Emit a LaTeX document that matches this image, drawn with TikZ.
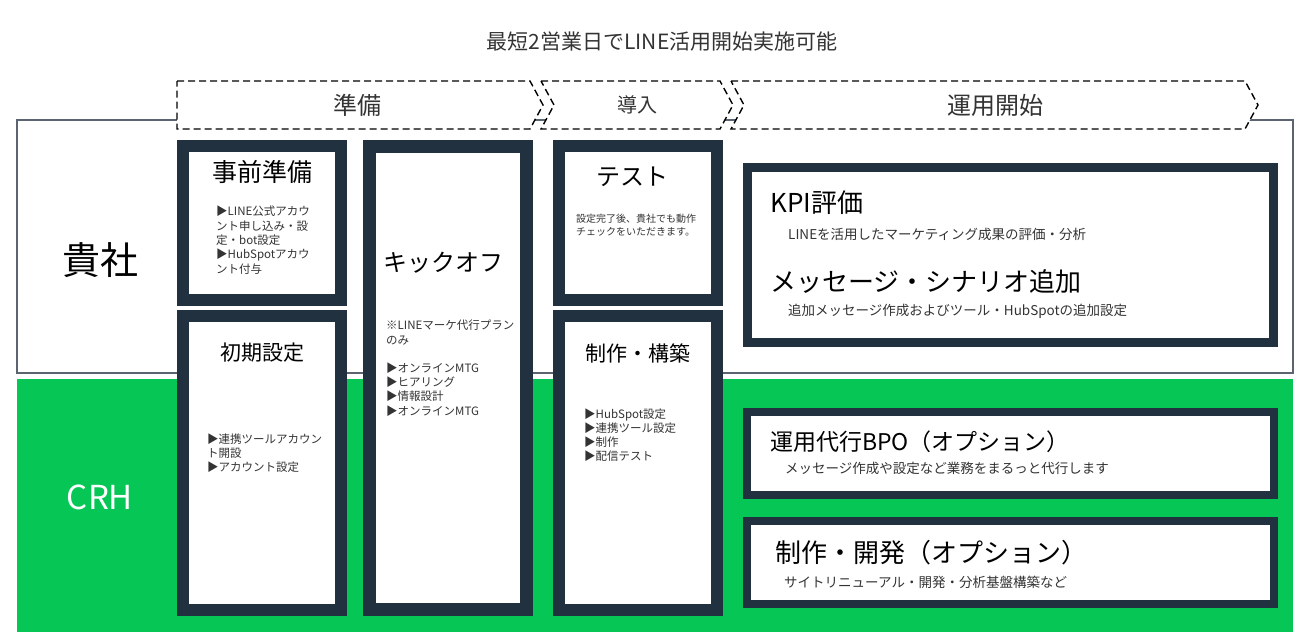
\documentclass[tikz,border=0pt]{standalone}
\usepackage{fontspec}
\setmainfont{Noto Sans CJK JP}
\definecolor{navy}{HTML}{22313F}
\definecolor{linegreen}{HTML}{06C755}
\definecolor{framegray}{HTML}{5B6470}
\definecolor{inkgray}{HTML}{333333}
\tikzstyle{panel}=[draw=navy,fill=white,inner sep=0pt,outer sep=0pt]
\tikzstyle{phase}=[draw=black,fill=white,line width=1.4pt,dash pattern=on 7pt off 4pt]
\tikzstyle{heading}=[inner sep=0pt,text=black]
\tikzstyle{bullets}=[inner sep=0pt,anchor=north west,align=left,text=inkgray]
\tikzstyle{subtext}=[inner sep=0pt,anchor=west,text=inkgray,font=\fontsize{13.5}{13.5}\selectfont]
\newcommand{\fs}[1]{\fontsize{#1}{#1}\selectfont}

\begin{document}
\begin{tikzpicture}[x=1pt,y=-1pt]
\useasboundingbox (0,0) rectangle (1315,638);
\fill[linegreen] (17,379) rectangle (1293,632);
\draw[framegray,line width=1.5pt] (17,120) rectangle (1293,373);
\node[heading,font=\fs{38}] (kisha) at (100,260) {貴社};
\node[heading,text=white,font=\fs{33}] (crh) at (100,497) {CRH};
\node[heading,text=inkgray,font=\fs{21}] (title) at (662,42) {最短2営業日でLINE活用開始実施可能};

\draw[phase] (177,81) -- (530,81) -- (543,105) -- (530,129) -- (177,129) -- cycle;
\draw[phase] (541,81) -- (720,81) -- (733,105) -- (720,129) -- (541,129) -- (554,105) -- cycle;
\draw[phase] (731,81) -- (1245,81) -- (1258,105) -- (1245,129) -- (731,129) -- (744,105) -- cycle;
\node[heading,text=inkgray,font=\fs{24}] (junbi) at (357,105) {準備};
\node[heading,text=inkgray,font=\fs{20}] (donyu) at (637,105) {導入};
\node[heading,text=inkgray,font=\fs{24}] (unyo) at (995,105) {運用開始};

\path (262,223) node[panel,line width=12pt,minimum width=158pt,minimum height=154pt] (jizen) {}
    ++ (0,240) node[panel,line width=12pt,minimum width=158pt,minimum height=294pt] (shoki) {};
\path (448,378) node[panel,line width=13pt,minimum width=157pt,minimum height=463pt] (kickoff) {};
\path (638,223) node[panel,line width=12pt,minimum width=158pt,minimum height=154pt] (test) {}
    ++ (0,240) node[panel,line width=12pt,minimum width=158pt,minimum height=294pt] (kochiku) {};
\path (1010.5,255) node[panel,line width=9pt,minimum width=526pt,minimum height=175pt] (kpi) {}
    ++ (0,198.5) node[panel,line width=8pt,minimum width=527pt,minimum height=83pt] (bpo) {}
    ++ (0,109) node[panel,line width=8pt,minimum width=527pt,minimum height=83pt] (kaihatsu) {};

\node[heading,font=\fs{25}] (jizentitle) at (262,172) {事前準備};
\node[bullets,font=\fontsize{11.5}{14.3}\selectfont] (jizenlist) at (216,206)
    {▶LINE公式アカウ\\ント申し込み・設\\定・bot設定\\▶HubSpotアカウ\\ント付与};
\node[heading,font=\fs{21}] (shokititle) at (262,353) {初期設定};
\node[bullets,font=\fontsize{11.5}{14}\selectfont] (shokilist) at (207,434)
    {▶連携ツールアカウン\\ト開設\\▶アカウント設定};
\node[heading,font=\fs{24}] (kickofftitle) at (443,263) {キックオフ};
\node[bullets,font=\fontsize{11.5}{14.2}\selectfont] (kickofflist) at (386,320)
    {※LINEマーケ代行プラン\\のみ\\[14.2pt]▶オンラインMTG\\▶ヒアリング\\▶情報設計\\▶オンラインMTG};
\node[heading,font=\fs{24}] (testtitle) at (632,177) {テスト};
\node[bullets,font=\fontsize{10}{13}\selectfont] (testtext) at (576,214)
    {設定完了後、貴社でも動作\\チェックをいただきます。};
\node[heading,font=\fs{21}] (kochikutitle) at (638,353) {制作・構築};
\node[bullets,font=\fontsize{11.5}{13.7}\selectfont] (kochikulist) at (584,409)
    {▶HubSpot設定\\▶連携ツール設定\\▶制作\\▶配信テスト};

\node[heading,anchor=west,font=\fs{26}] (kpititle) at (770,203) {KPI評価};
\node[subtext] (kpitext) at (788,234) {LINEを活用したマーケティング成果の評価・分析};
\node[heading,anchor=west,font=\fs{26}] (scenariotitle) at (770,282) {メッセージ・シナリオ追加};
\node[subtext] (scenariotext) at (788,311) {追加メッセージ作成およびツール・HubSpotの追加設定};
\node[heading,anchor=west,font=\fs{23}] (bpotitle) at (770,442) {運用代行BPO（オプション）};
\node[subtext] (bpotext) at (785,468) {メッセージ作成や設定など業務をまるっと代行します};
\node[heading,anchor=west,font=\fs{26}] (devtitle) at (775,553) {制作・開発（オプション）};
\node[subtext] (devtext) at (784,582) {サイトリニューアル・開発・分析基盤構築など};
\end{tikzpicture}
\end{document}
